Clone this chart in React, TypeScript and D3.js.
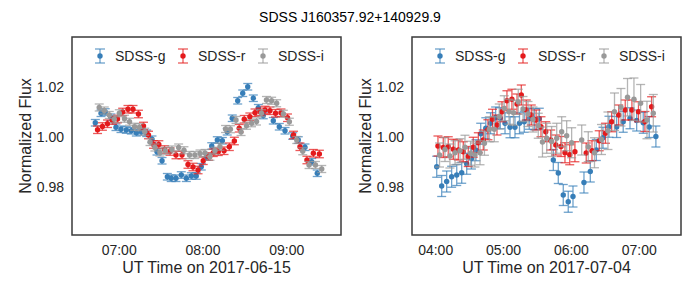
import React from "react";
import * as d3 from "d3";

// ---------- Data (times in minutes after 00:00 UT) ----------
const titleText = "SDSS J160357.92+140929.9";
const bandNames = ["SDSS-g", "SDSS-r", "SDSS-i"];
const yTicks = [0.98, 1.0, 1.02];

// Panel 1: 2017-06-15
const p1Ticks = [420, 480, 540];
const p1TickLabels = ["07:00", "08:00", "09:00"];
const p1Label = "UT Time on 2017-06-15";

const p1gTime = [402.9, 407.0, 410.0, 414.1, 417.7, 421.3, 425.1, 428.7, 432.3, 435.8, 439.7, 443.5, 447.1, 450.7, 454.5, 457.3, 460.7, 464.5, 468.1, 471.7, 475.2, 478.8, 482.7, 486.3, 490.3, 493.9, 497.4, 501.0, 504.9, 508.5, 512.1, 516.1, 519.7, 523.2, 530.4, 534.7, 538.8, 544.3, 548.3, 553.1, 557.9, 561.9];
const p1gFlux = [1.0057, 1.0095, 1.0100, 1.0079, 1.0039, 1.0031, 1.0028, 1.0025, 1.0017, 1.0021, 1.0015, 0.9991, 0.9941, 0.9905, 0.9841, 0.9835, 0.9835, 0.9848, 0.9835, 0.9844, 0.9844, 0.9881, 0.9920, 0.9964, 0.9988, 0.9985, 1.0021, 1.0075, 1.0145, 1.0175, 1.0201, 1.0155, 1.0117, 1.0086, 1.0065, 1.0041, 1.0025, 1.0004, 0.9988, 0.9959, 0.9901, 0.9855];
const p1gErr = 0.0013;

const p1rTime = [404.5, 408.0, 411.6, 415.2, 418.8, 422.5, 426.3, 429.9, 433.8, 437.4, 441.0, 444.6, 448.4, 452.5, 456.4, 460.7, 465.0, 469.3, 472.9, 476.5, 480.2, 484.0, 487.4, 491.0, 495.1, 498.9, 502.5, 506.0, 509.6, 513.6, 517.3, 520.9, 524.5, 528.0, 532.0, 535.9, 540.6, 544.9, 549.5, 554.5, 559.1, 563.4];
const p1rFlux = [1.0029, 1.0042, 1.0053, 1.0066, 1.0072, 1.0100, 1.0111, 1.0111, 1.0092, 1.0044, 1.0008, 0.9970, 0.9970, 0.9950, 0.9942, 0.9928, 0.9928, 0.9890, 0.9880, 0.9868, 0.9905, 0.9922, 0.9937, 0.9941, 0.9945, 0.9961, 0.9984, 1.0035, 1.0071, 1.0081, 1.0097, 1.0101, 1.0108, 1.0105, 1.0095, 1.0097, 1.0077, 1.0008, 0.9961, 0.9908, 0.9935, 0.9932];
const p1rErr = 0.0015;

const p1iTime = [405.7, 409.3, 412.9, 416.5, 420.1, 423.8, 427.4, 431.0, 434.5, 438.3, 442.1, 445.6, 449.2, 453.0, 457.8, 462.6, 466.4, 470.4, 474.2, 477.9, 481.5, 485.0, 488.6, 492.2, 496.2, 499.7, 503.7, 507.3, 511.2, 514.8, 518.4, 521.9, 525.5, 529.2, 532.8, 537.6, 541.9, 547.2, 551.5, 556.0, 560.6, 565.1];
const p1iFlux = [1.0118, 1.0106, 1.0088, 1.0071, 1.0095, 1.0073, 1.0061, 1.0041, 1.0039, 1.0021, 0.9980, 0.9958, 0.9938, 0.9945, 0.9950, 0.9958, 0.9947, 0.9928, 0.9928, 0.9934, 0.9936, 0.9921, 0.9945, 0.9961, 1.0032, 1.0031, 1.0068, 1.0020, 1.0045, 1.0055, 1.0062, 1.0095, 1.0148, 1.0145, 1.0135, 1.0093, 1.0061, 0.9988, 0.9943, 0.9888, 0.9888, 0.9872];
const p1iErr = 0.0014;

// Panel 2: 2017-07-04
const p2Ticks = [240, 300, 360, 420];
const p2TickLabels = ["04:00", "05:00", "06:00", "07:00"];
const p2Label = "UT Time on 2017-07-04";

const p2gTime = [240.9, 245.3, 249.7, 254.1, 258.6, 263.0, 267.4, 271.6, 275.6, 279.8, 284.3, 288.5, 293.0, 297.1, 301.3, 305.7, 310.1, 314.1, 318.3, 322.7, 327.2, 331.6, 344.0, 348.4, 352.8, 357.2, 361.4, 371.1, 376.7, 382.0, 387.9, 393.2, 400.0, 405.8, 411.8, 417.7, 423.5, 428.8, 434.7];
const p2gFlux = [0.9881, 0.9804, 0.9822, 0.9841, 0.9848, 0.9857, 0.9893, 0.9914, 0.9947, 1.0013, 1.0035, 1.0055, 1.0078, 1.0075, 1.0055, 1.0039, 1.0039, 1.0055, 1.0061, 1.0073, 1.0071, 1.0073, 0.9908, 0.9856, 0.9768, 0.9741, 0.9762, 0.9818, 0.9862, 0.9948, 0.9997, 1.0041, 1.0040, 1.0061, 1.0075, 1.0066, 1.0057, 1.0040, 1.0002];
const p2gErr = 0.0042;

const p2rTime = [242.0, 246.7, 251.1, 255.6, 260.0, 264.4, 268.8, 273.2, 277.7, 282.1, 286.2, 290.2, 294.2, 298.6, 303.0, 307.4, 311.9, 315.7, 320.1, 324.5, 328.8, 333.1, 337.3, 341.7, 346.2, 350.8, 354.3, 358.5, 363.1, 373.1, 378.2, 384.6, 390.1, 395.6, 401.8, 407.6, 413.5, 419.3, 425.0, 430.9];
const p2rFlux = [0.9964, 0.9958, 0.9961, 0.9951, 0.9948, 0.9941, 0.9922, 0.9959, 0.9977, 0.9988, 1.0029, 1.0071, 1.0048, 1.0101, 1.0145, 1.0151, 1.0132, 1.0168, 1.0108, 1.0088, 1.0068, 1.0041, 1.0021, 0.9988, 0.9968, 0.9962, 0.9937, 0.9929, 0.9941, 0.9936, 0.9945, 0.9985, 1.0015, 1.0061, 1.0088, 1.0108, 1.0108, 1.0101, 1.0062, 1.0121];
const p2rErr = 0.0040;

const p2iTime = [243.4, 248.2, 252.6, 257.1, 261.5, 265.9, 270.8, 274.7, 279.2, 283.1, 287.4, 291.8, 296.2, 300.6, 304.8, 308.8, 313.0, 317.2, 321.6, 326.0, 330.7, 334.4, 338.2, 342.5, 347.0, 351.4, 355.8, 360.2, 369.1, 374.9, 380.4, 386.6, 392.3, 398.1, 403.8, 409.6, 415.3, 421.2, 426.8, 432.4];
const p2iFlux = [0.9928, 0.9950, 0.9924, 0.9937, 0.9945, 0.9959, 0.9935, 0.9928, 0.9937, 0.9975, 1.0031, 1.0031, 1.0082, 1.0115, 1.0101, 1.0097, 1.0141, 1.0112, 1.0092, 1.0070, 1.0045, 0.9980, 0.9995, 0.9982, 0.9995, 1.0021, 1.0005, 0.9977, 0.9988, 0.9961, 0.9937, 0.9990, 1.0025, 1.0101, 1.0119, 1.0159, 1.0151, 1.0135, 1.0068, 1.0095];
const p2iErr = [0.0048, 0.0048, 0.0048, 0.0048, 0.0048, 0.0048, 0.0048, 0.0048, 0.0048, 0.0048, 0.0050, 0.0050, 0.0050, 0.0050, 0.0050, 0.0050, 0.0050, 0.0050, 0.0050, 0.0050, 0.0050, 0.0060, 0.0060, 0.0060, 0.0060, 0.0060, 0.0060, 0.0060, 0.0060, 0.0060, 0.0060, 0.0060, 0.0075, 0.0075, 0.0075, 0.0075, 0.0085, 0.0075, 0.0075, 0.0075];

// ---------- Style ----------
const COLORS = ["#377eb8", "#e41a1c", "#999999"];
const FONT = "'Liberation Sans', Arial, Helvetica, sans-serif";
const W = 700;
const H = 293;

type Series = { time: number[]; flux: number[]; err: number | number[] };

type PanelProps = {
  left: number;
  right: number;
  top: number;
  bottom: number;
  xDomain: [number, number];
  ticks: number[];
  tickLabels: string[];
  xLabel: string;
  series: Series[];
  legendX: number[];
};

function Panel(p: PanelProps) {
  const x = d3.scaleLinear().domain(p.xDomain).range([p.left, p.right]);
  const y = d3.scaleLinear().domain([0.9608, 1.04]).range([p.bottom, p.top]);
  const cap = 4.5;
  const midY = (p.top + p.bottom) / 2;
  const midX = (p.left + p.right) / 2;
  return (
    <g>
      <defs>
        <clipPath id={`clip-${p.left}`}>
          <rect x={p.left} y={p.top} width={p.right - p.left} height={p.bottom - p.top} />
        </clipPath>
      </defs>
      <g clipPath={`url(#clip-${p.left})`}>
        {p.series.map((s, si) => (
          <g key={si}>
            {s.time.map((t, k) => {
              const e = Array.isArray(s.err) ? s.err[k] : s.err;
              const cx = x(t);
              const yt = y(s.flux[k] + e);
              const yb = y(s.flux[k] - e);
              return (
                <g key={k} stroke={COLORS[si]} strokeOpacity={0.72} strokeWidth={1.3}>
                  <line x1={cx} x2={cx} y1={yt} y2={yb} />
                  <line x1={cx - cap} x2={cx + cap} y1={yt} y2={yt} />
                  <line x1={cx - cap} x2={cx + cap} y1={yb} y2={yb} />
                </g>
              );
            })}
            {s.time.map((t, k) => (
              <circle key={`c${k}`} cx={x(t)} cy={y(s.flux[k])} r={2.7} fill={COLORS[si]} />
            ))}
          </g>
        ))}
      </g>
      <rect
        x={p.left}
        y={p.top}
        width={p.right - p.left}
        height={p.bottom - p.top}
        fill="none"
        stroke="#3a3a3a"
        strokeWidth={1.5}
      />
      {yTicks.map((v) => (
        <text
          key={v}
          x={p.left - 8}
          y={y(v)}
          textAnchor="end"
          dominantBaseline="central"
          fontSize={14}
          fontFamily={FONT}
          fill="#262626"
        >
          {v.toFixed(2)}
        </text>
      ))}
      {p.ticks.map((t, k) => (
        <text
          key={t}
          x={x(t)}
          y={250}
          textAnchor="middle"
          dominantBaseline="central"
          fontSize={14}
          fontFamily={FONT}
          fill="#262626"
        >
          {p.tickLabels[k]}
        </text>
      ))}
      <text
        x={midX}
        y={267}
        textAnchor="middle"
        dominantBaseline="central"
        fontSize={16}
        fontFamily={FONT}
        fill="#262626"
      >
        {p.xLabel}
      </text>
      <text
        transform={`translate(${p.left - 47},${midY}) rotate(-90)`}
        textAnchor="middle"
        dominantBaseline="central"
        fontSize={16}
        fontFamily={FONT}
        fill="#262626"
      >
        Normalized Flux
      </text>
      {bandNames.map((name, i) => {
        const lx = p.legendX[i];
        const ly = 56;
        return (
          <g key={name}>
            <g stroke={COLORS[i]} strokeOpacity={0.72} strokeWidth={1.3}>
              <line x1={lx} x2={lx} y1={ly - 7} y2={ly + 7} />
              <line x1={lx - 5} x2={lx + 5} y1={ly - 7} y2={ly - 7} />
              <line x1={lx - 5} x2={lx + 5} y1={ly + 7} y2={ly + 7} />
            </g>
            <circle cx={lx} cy={ly} r={2.7} fill={COLORS[i]} />
            <text
              x={lx + 15}
              y={ly}
              dominantBaseline="central"
              fontSize={14}
              fontFamily={FONT}
              fill="#262626"
            >
              {name}
            </text>
          </g>
        );
      })}
    </g>
  );
}

export default function App() {
  const p1Series: Series[] = [
    { time: p1gTime, flux: p1gFlux, err: p1gErr },
    { time: p1rTime, flux: p1rFlux, err: p1rErr },
    { time: p1iTime, flux: p1iFlux, err: p1iErr },
  ];
  const p2Series: Series[] = [
    { time: p2gTime, flux: p2gFlux, err: p2gErr },
    { time: p2rTime, flux: p2rFlux, err: p2rErr },
    { time: p2iTime, flux: p2iFlux, err: p2iErr },
  ];
  return (
    <svg
      width={W}
      height={H}
      viewBox={`0 0 ${W} ${H}`}
      style={{ position: "absolute", left: 0, top: 0, background: "#fff" }}
    >
      <rect x={0} y={0} width={W} height={H} fill="#fff" />
      <text
        x={350}
        y={17}
        textAnchor="middle"
        dominantBaseline="central"
        fontSize={14}
        fontFamily={FONT}
        fill="#000"
      >
        {titleText}
      </text>
      <Panel
        left={72}
        right={341}
        top={37}
        bottom={235}
        xDomain={[386.2, 578.9]}
        ticks={p1Ticks}
        tickLabels={p1TickLabels}
        xLabel={p1Label}
        series={p1Series}
        legendX={[100, 183, 263]}
      />
      <Panel
        left={412}
        right={681}
        top={37}
        bottom={235}
        xDomain={[219.05, 456.9]}
        ticks={p2Ticks}
        tickLabels={p2TickLabels}
        xLabel={p2Label}
        series={p2Series}
        legendX={[440, 523, 604]}
      />
    </svg>
  );
}
